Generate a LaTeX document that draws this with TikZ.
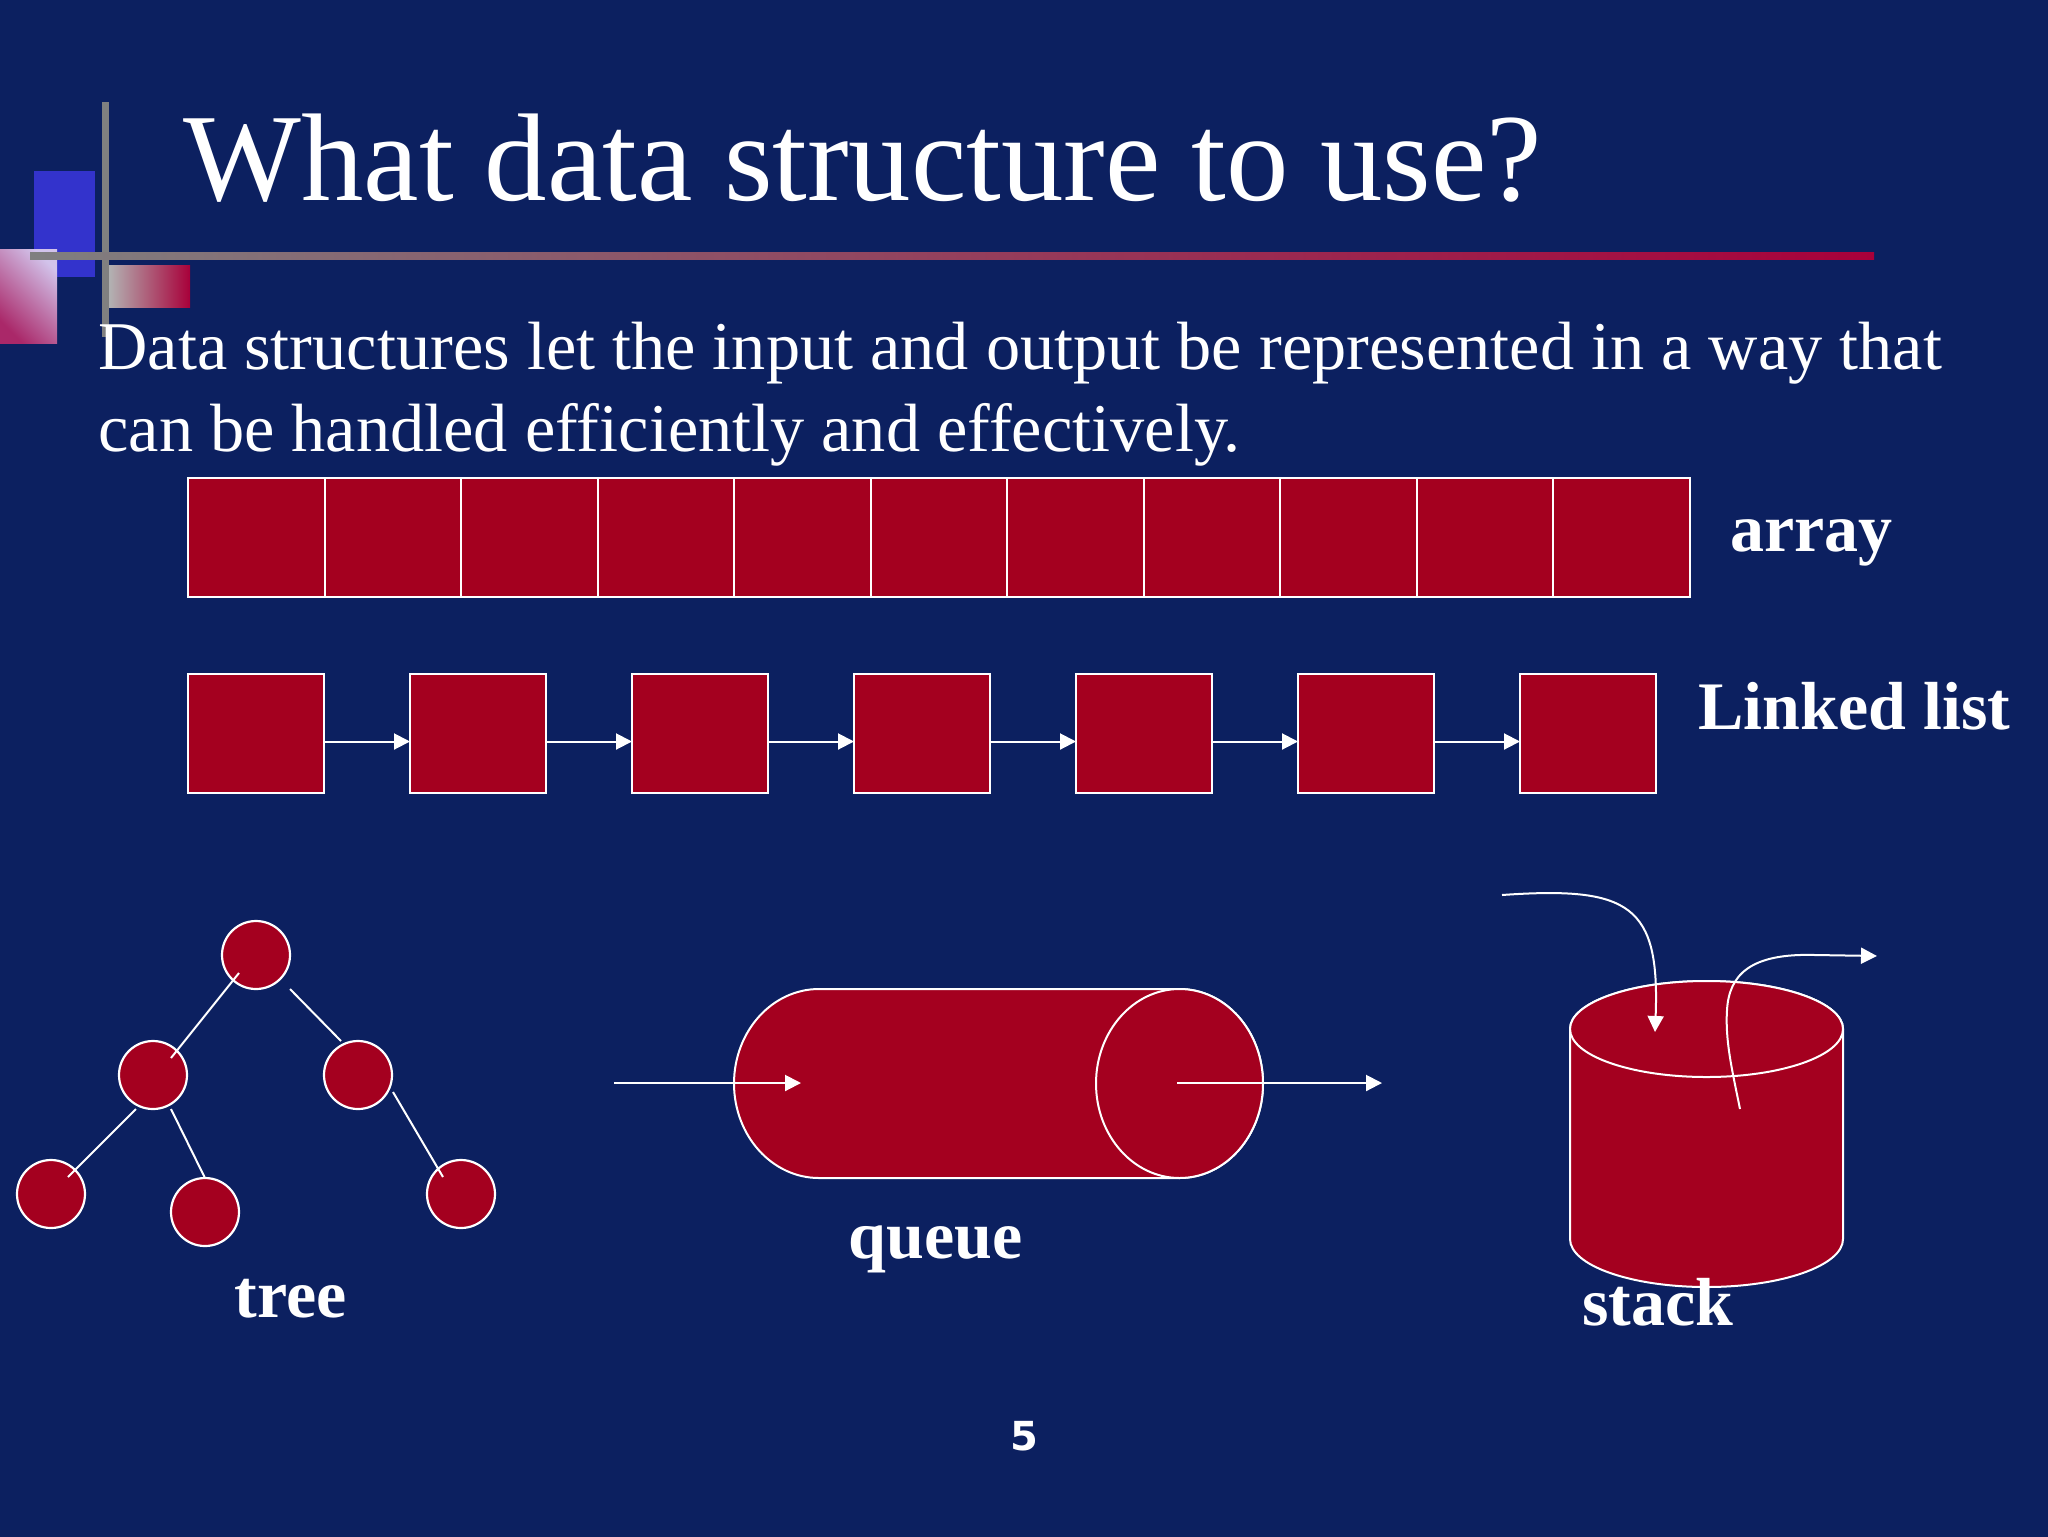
\documentclass[tikz,border=0pt]{standalone}
\usepackage{fontspec}
\setmainfont{Liberation Serif}
\setsansfont{DejaVu Sans}
\usetikzlibrary{positioning}
\usetikzlibrary{arrows.meta}
\definecolor{slidebg}{HTML}{0C2060}
\definecolor{cellred}{HTML}{A4001F}
\definecolor{barred}{HTML}{A8003A}
\tikzset{
    cell/.style = {rectangle, draw=white, fill=cellred, line width=1pt, minimum width=68.25pt, minimum height=59.5pt, inner sep=0pt, outer sep=0pt},
    treenode/.style = {circle, draw=white, fill=cellred, line width=1.1pt, minimum size=34pt, inner sep=0pt, outer sep=0pt},
    drum/.style = {draw=white, fill=cellred, line width=1pt},
    edgen/.style = {-,line width=1pt,white},
    edgea/.style = {-{Triangle[length=8pt,width=8pt]},line width=1pt,white},
    titletext/.style = {anchor=base west,inner sep=0pt,text=white,font=\fontsize{62.4}{70}\selectfont},
    bodytext/.style = {anchor=base west,inner sep=0pt,text=white,font=\fontsize{34.15}{40}\selectfont},
    labeltext/.style = {anchor=base west,inner sep=0pt,text=white,font=\fontsize{34}{38}\selectfont\bfseries},
    pagetext/.style = {anchor=base,inner sep=0pt,text=white,font=\sffamily\bfseries\fontsize{20}{24}\selectfont}
}
\begin{document}
\begin{tikzpicture}[x=0.5pt,y=-0.5pt]
  \useasboundingbox (0,0) rectangle (2048,1536);
  \fill[slidebg] (-6,-6) rectangle (2054,1542);
  % corner decoration
  \fill[fill={rgb,255:red,51;green,51;blue,204}] (34,171) rectangle (95,277);
  \shade[shading=axis,bottom color={rgb,255:red,170;green,40;blue,105},top color={rgb,255:red,210;green,195;blue,235},shading angle=-45] (0,249) rectangle (57,343);
  \shade[left color=gray!60!white,right color=barred] (109,265) rectangle (190,307);
  \fill[gray] (102,102) rectangle (109,337);
  \shade[left color=gray,middle color=gray!55!barred,right color=barred] (30,252) rectangle (1874,259);
  % text
  \node[titletext] (title) at (183,200) {What data structure to use?};
  \node[bodytext] (line1) at (98,369) {Data structures let the input and output be represented in a way that};
  \node[bodytext] (line2) at (98,451) {can be handled efficiently and effectively.};
  % array
  \node[cell,anchor=north west] (a1) at (188,478) {};
  \foreach \i [remember=\i as \j (initially 1)] in {2,...,11}
    \node[cell,right=0pt of a\j] (a\i) {};
  \node[labeltext] (arraylabel) at (1730,551) {array};
  % linked list
  \node[cell,anchor=north west,minimum width=68pt] (l1) at (188,674) {};
  \foreach \i [remember=\i as \j (initially 1)] in {2,...,7} {
    \node[cell,right=43pt of l\j,minimum width=68pt] (l\i) {};
    \draw[edgea] ([yshift=-4pt]l\j.east) -- ([yshift=-4pt]l\i.west);
  }
  \node[labeltext] (listlabel) at (1698,729) {Linked list};
  % tree
  \node[treenode] (root) at (256,955) {};
  \node[treenode] (nl) at (153,1075) {};
  \node[treenode] (nr) at (358,1075) {};
  \node[treenode] (nll) at (51,1194) {};
  \node[treenode] (nlm) at (205,1212) {};
  \node[treenode] (nrr) at (461,1194) {};
  \draw[edgen] ([shift={(-17,18)}]root.center) -- ([shift={(18,-17)}]nl.center);
  \draw[edgen] ([shift={(34,34)}]root.center) -- ([shift={(-17,-34)}]nr.center);
  \draw[edgen] ([shift={(-17,34)}]nl.center) -- ([shift={(17,-17)}]nll.center);
  \draw[edgen] ([shift={(18,34)}]nl.center) -- (nlm.north);
  \draw[edgen] ([shift={(35,17)}]nr.center) -- ([shift={(-18,-17)}]nrr.center);
  \node[labeltext] (treelabel) at (234,1317) {tree};
  % queue
  \draw[drum] (819,989) -- (1179.5,989) arc (90:-90:41.75pt and 47.25pt) -- (819,1178) arc (-90:-270:42.5pt and 47.25pt) -- cycle;
  \draw[drum] (1179.5,1083.5) ellipse (41.75pt and 47.25pt);
  \coordinate (qa) at (614,1083);
  \coordinate (qb) at (801,1083);
  \coordinate (qc) at (1177,1083);
  \coordinate (qd) at (1382,1083);
  \draw[edgea] (qa) -- (qb);
  \draw[edgea] (qc) -- (qd);
  \node[labeltext] (queuelabel) at (848,1258) {queue};
  % stack
  \draw[drum] (1570,1029) arc (180:0:68.25pt and 24pt) -- (1843,1239) arc (0:-180:68.25pt and 24pt) -- cycle;
  \draw[drum] (1706.5,1029) ellipse (68.25pt and 24pt);
  \coordinate (sa) at (1502,895);
  \coordinate (sb) at (1655,1032);
  \coordinate (sc) at (1740,1109);
  \coordinate (sd) at (1877,956);
  \draw[edgea] (sa) .. controls (1630,886) and (1660,905) .. (sb);
  \draw[edgea] (sc) .. controls (1732,1070) and (1725,1040) .. (1727,1010) .. controls (1729,975) and (1750,953) .. (1815,955) -- (sd);
  \node[labeltext] (stacklabel) at (1582,1325) {stack};
  % page number
  \node[pagetext] (pagenum) at (1024,1450) {5};
\end{tikzpicture}
\end{document}
